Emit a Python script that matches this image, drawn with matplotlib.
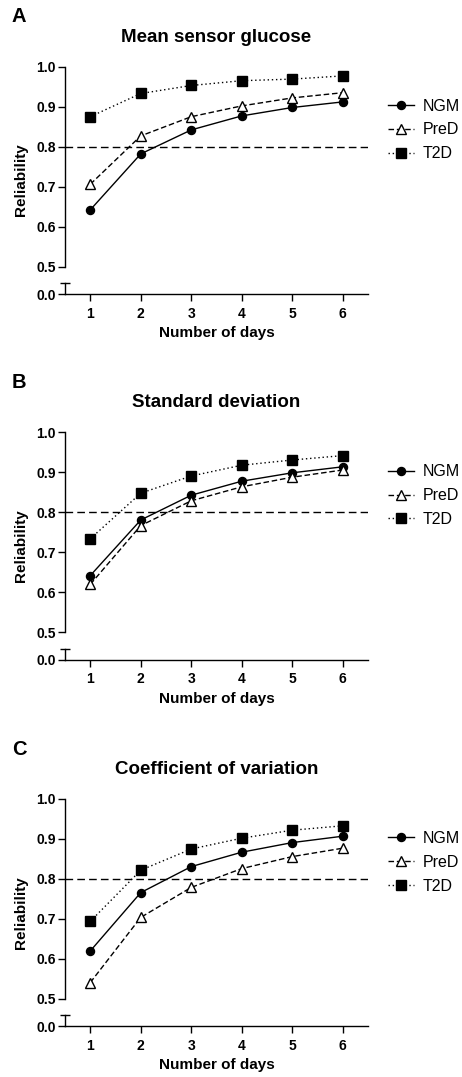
import numpy as np
import matplotlib
matplotlib.use("Agg")
import matplotlib.pyplot as plt

plt.rcParams['font.family'] = ['Liberation Sans', 'DejaVu Sans']

days = [1, 2, 3, 4, 5, 6]
groups = ['NGM', 'PreD', 'T2D']

titles = ['Mean sensor glucose', 'Standard deviation', 'Coefficient of variation']
letters = ['A', 'B', 'C']

# reliability values
msg_ngm = [0.642, 0.782, 0.842, 0.877, 0.898, 0.912]
msg_pred = [0.706, 0.827, 0.875, 0.902, 0.922, 0.935]
msg_t2d = [0.875, 0.933, 0.953, 0.965, 0.969, 0.977]

sd_ngm = [0.642, 0.781, 0.843, 0.878, 0.899, 0.914]
sd_pred = [0.620, 0.767, 0.829, 0.864, 0.888, 0.906]
sd_t2d = [0.734, 0.848, 0.891, 0.918, 0.931, 0.942]

cv_ngm = [0.620, 0.766, 0.831, 0.867, 0.891, 0.907]
cv_pred = [0.541, 0.704, 0.779, 0.826, 0.856, 0.877]
cv_t2d = [0.694, 0.822, 0.875, 0.902, 0.922, 0.933]

panels = [
    (msg_ngm, msg_pred, msg_t2d),
    (sd_ngm, sd_pred, sd_t2d),
    (cv_ngm, cv_pred, cv_t2d),
]

threshold = 0.8

W, H = 462, 1077
fig = plt.figure(figsize=(W / 100, H / 100), dpi=100)

def fx(px):
    return px / W

def fy(px):
    return 1 - px / H

styles = [
    dict(linestyle='-', marker='o', markersize=5.8, markerfacecolor='black'),
    dict(linestyle=(0, (4, 2)), marker='^', markersize=7.2, markerfacecolor='white'),
    dict(linestyle=(0, (1, 2)), marker='s', markersize=7, markerfacecolor='black'),
]

ax_l, ax_r = 65, 368
offsets = [0, 365.7, 732.3]

for k, (vals, off) in enumerate(zip(panels, offsets)):
    top_px = 66.7 + off
    mid_px = 266.7 + off
    brk_px = 283 + off
    zero_px = 294 + off

    ax = fig.add_axes([fx(ax_l), fy(mid_px), fx(ax_r - ax_l), (mid_px - top_px) / H])
    axb = fig.add_axes([fx(ax_l), fy(zero_px), fx(ax_r - ax_l), (zero_px - brk_px) / H])

    for a in (ax, axb):
        a.set_xlim(0.5, 6.5)
        a.spines['top'].set_visible(False)
        a.spines['right'].set_visible(False)
        for s in a.spines.values():
            s.set_linewidth(1.0)
        a.tick_params(width=1.0, length=5, labelsize=10, pad=1.5)
        a.patch.set_alpha(0)

    ax.set_ylim(0.5, 1.0)
    ax.set_yticks([0.5, 0.6, 0.7, 0.8, 0.9, 1.0])
    ax.set_yticklabels(['0.5', '0.6', '0.7', '0.8', '0.9', '1.0'], fontweight='bold')
    ax.spines['bottom'].set_visible(False)
    ax.set_xticks([])

    axb.set_ylim(0, 1)
    axb.set_yticks([0])
    axb.set_yticklabels(['0.0'], fontweight='bold')
    axb.set_xticks(days)
    axb.set_xticklabels([str(d) for d in days], fontweight='bold')
    axb.tick_params(axis='x', pad=4)
    # break cap at top of the lower segment
    axb.plot([0.5], [1], marker='_', markersize=7, markeredgewidth=1.0,
             color='black', clip_on=False)

    ax.axhline(threshold, color='black', linestyle=(0, (5.5, 3)), linewidth=1.0)

    for g, v, st in zip(groups, vals, styles):
        ax.plot(days, v, color='black', linewidth=1.0, markeredgecolor='black',
                markeredgewidth=1.0, label=g, clip_on=False, **st)

    ax.legend(loc='center left', bbox_to_anchor=(fx(388), fy(130 + off)),
              bbox_transform=fig.transFigure, frameon=False, fontsize=11.5,
              handlelength=1.6, handletextpad=0.55, labelspacing=0.55,
              borderaxespad=0, borderpad=0)

    fig.text(fx(216.5), fy(37 + off), titles[k], ha='center', va='center',
             fontsize=13.5, fontweight='bold')
    fig.text(fx(12), fy(17 + off), letters[k], ha='left', va='center',
             fontsize=14.5, fontweight='bold')
    fig.text(fx(21), fy(180 + off), 'Reliability', ha='center', va='center',
             rotation=90, fontsize=11, fontweight='bold')
    fig.text(fx(216.5), fy(333 + off), 'Number of days', ha='center', va='center',
             fontsize=11, fontweight='bold')

fig.savefig('out.png', dpi=100)
